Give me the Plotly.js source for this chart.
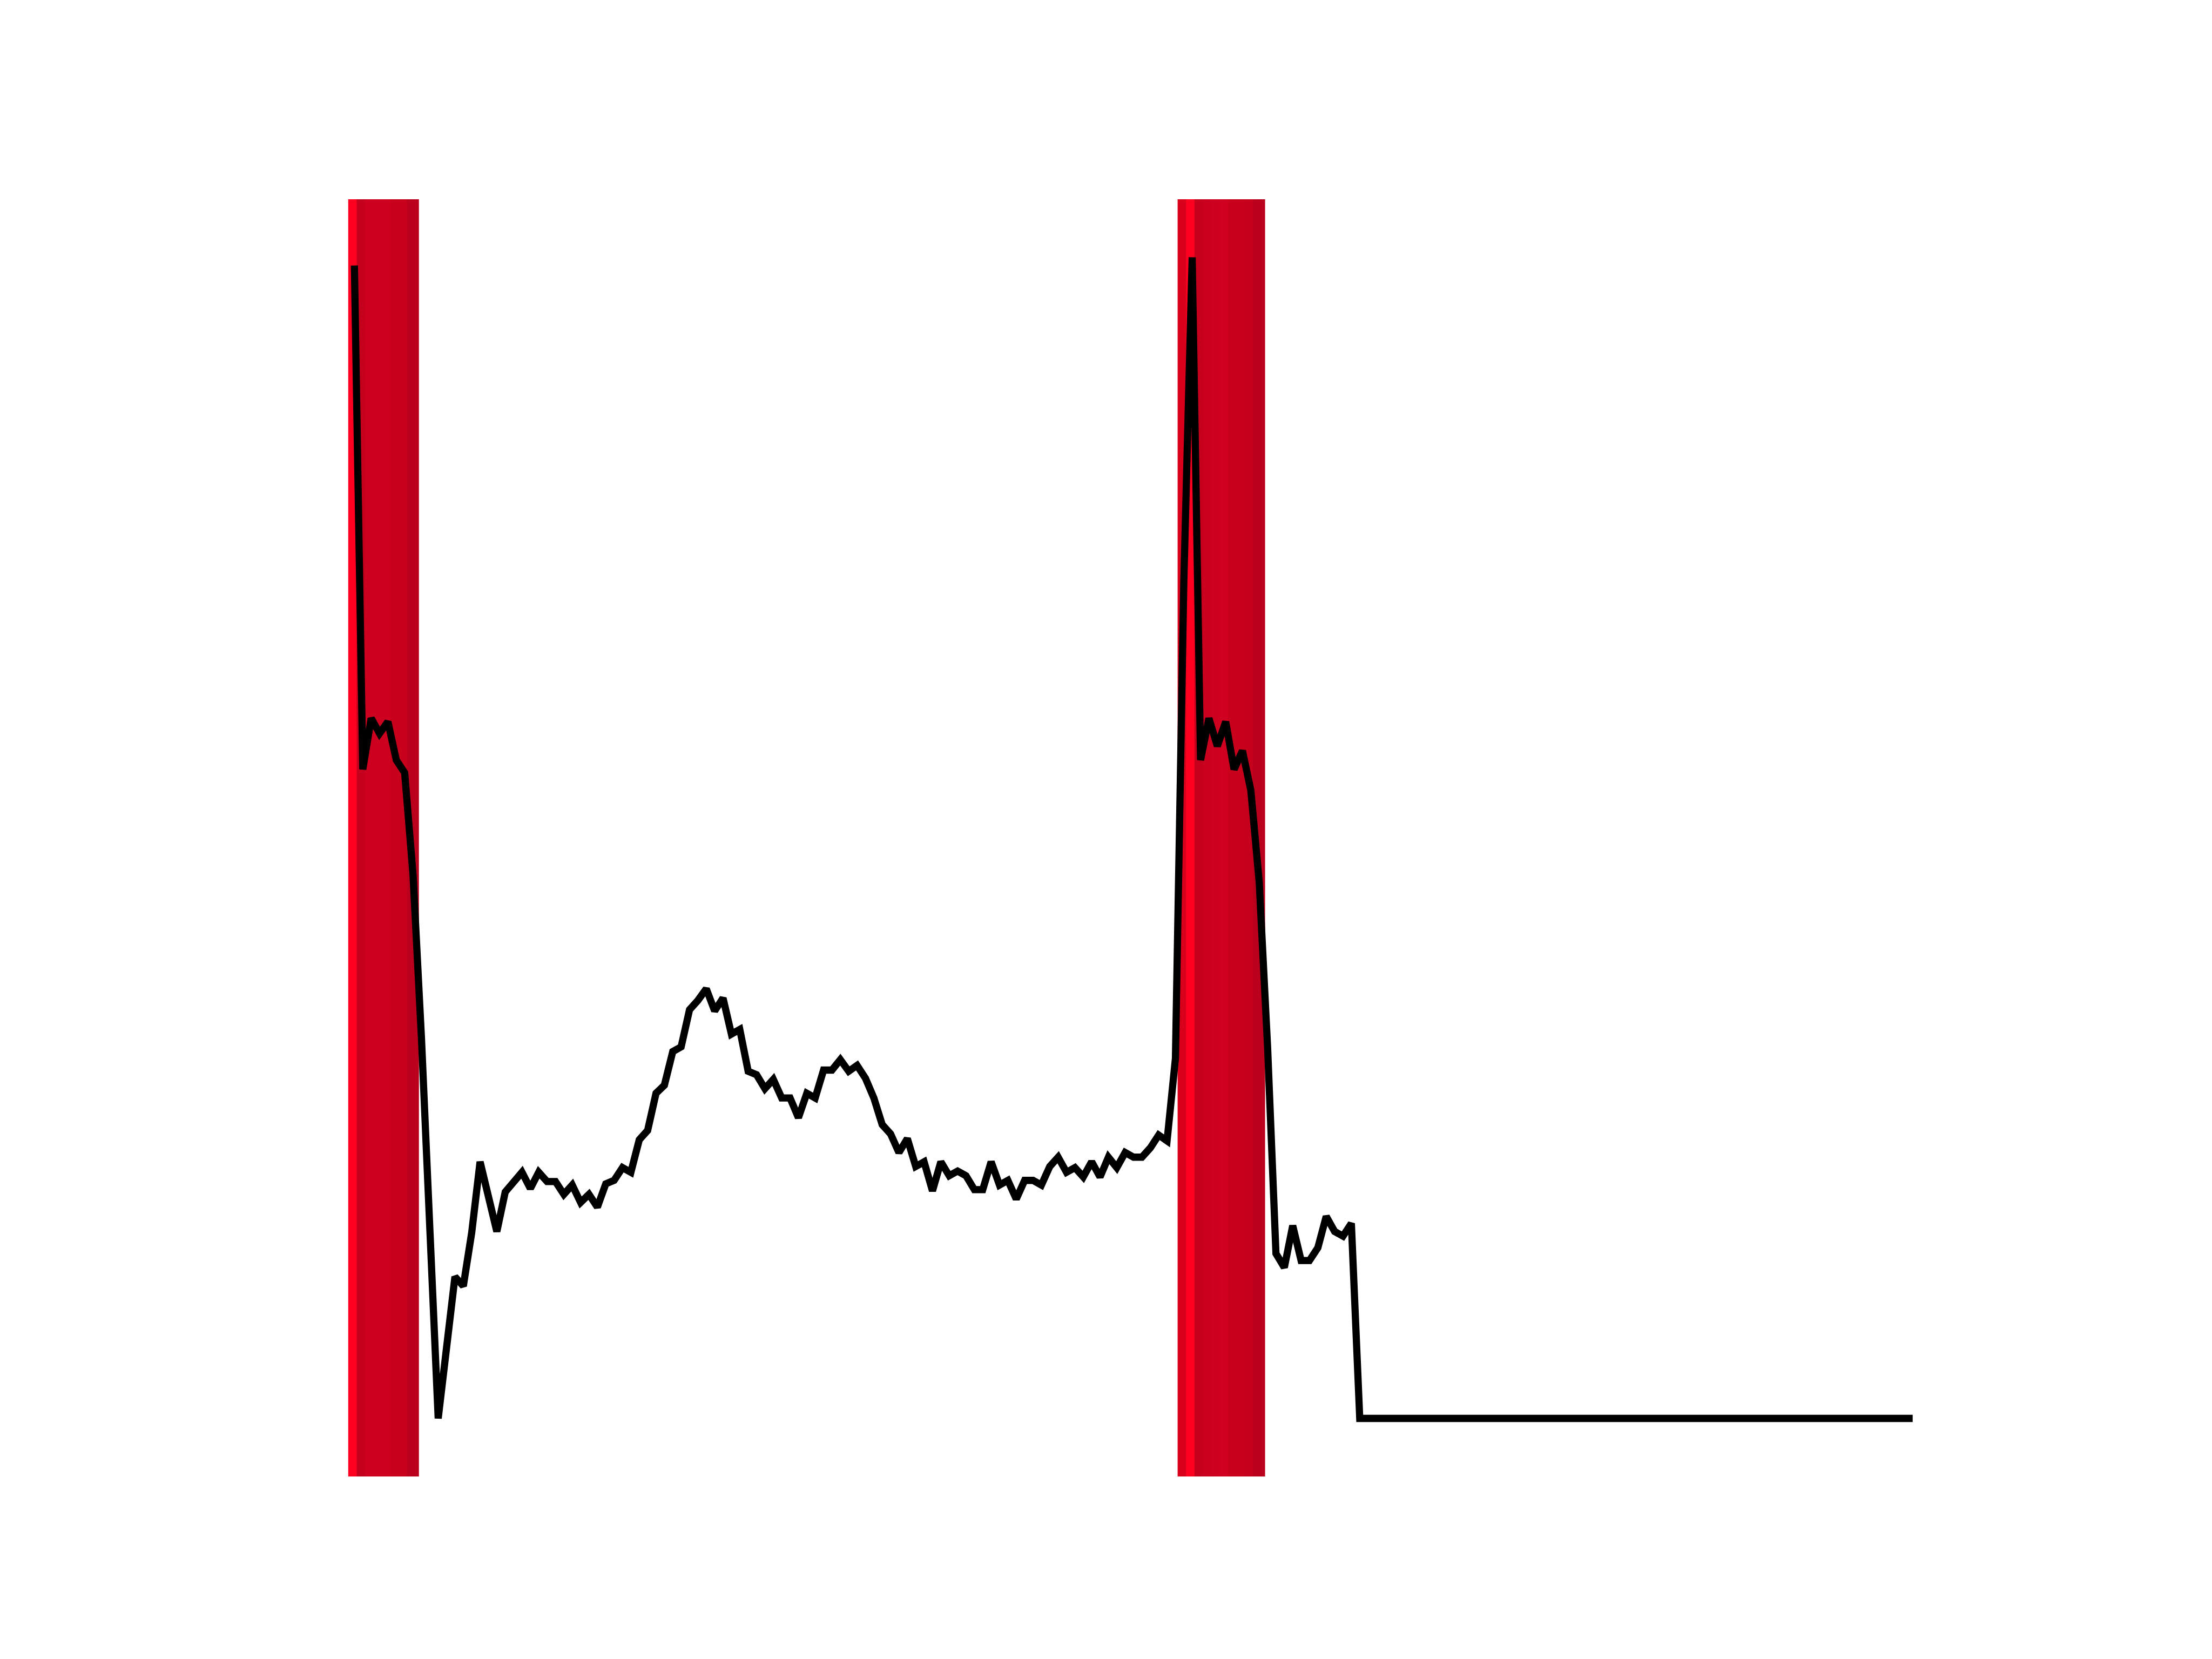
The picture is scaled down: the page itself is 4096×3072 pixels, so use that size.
<!DOCTYPE html>
<html>
<head>
<meta charset="utf-8">
<script src="https://cdn.plot.ly/plotly-3.0.1.min.js"></script>
<style>html,body{margin:0;padding:0;background:#fff;}#chart{width:4096px;height:3072px;}</style>
</head>
<body>
<div id="chart"></div>
<script>
// Series values (one per step)
var values = [
  99.3, 55.9, 60.3, 59.0, 60.0, 56.7, 55.6, 46.8, 32.8, 16.5,
  0.0, 6.1, 12.2, 11.4, 16.0, 22.1, 19.4, 16.1, 19.5, 20.3,
  21.2, 19.8, 21.2, 20.4, 20.4, 19.3, 20.1, 18.6, 19.3, 18.2,
  20.2, 20.5, 21.6, 21.2, 24.0, 24.8, 28.0, 28.7, 31.6, 32.0,
  35.2, 36.0, 37.0, 35.1, 36.2, 33.1, 33.5, 29.9, 29.6, 28.4,
  29.2, 27.6, 27.6, 25.9, 28.0, 27.6, 30.0, 30.0, 30.9, 29.9,
  30.4, 29.3, 27.6, 25.3, 24.5, 22.9, 24.1, 21.7, 22.1, 19.6,
  22.1, 20.9, 21.3, 20.9, 19.7, 19.7, 22.1, 20.1, 20.5, 18.9,
  20.5, 20.5, 20.1, 21.7, 22.5, 21.2, 21.6, 20.8, 22.1, 20.8,
  22.5, 21.6, 22.9, 22.5, 22.5, 23.3, 24.4, 23.9, 31.0, 72.0,
  100.0, 56.7, 60.3, 57.9, 60.0, 55.9, 57.5, 54.1, 46.2, 32.0,
  14.2, 13.0, 16.6, 13.6, 13.6, 14.7, 17.4, 16.1, 15.7, 16.8,
  0, 0, 0, 0, 0, 0, 0, 0, 0, 0,
  0, 0, 0, 0, 0, 0, 0, 0, 0, 0,
  0, 0, 0, 0, 0, 0, 0, 0, 0, 0,
  0, 0, 0, 0, 0, 0, 0, 0, 0, 0,
  0, 0, 0, 0, 0, 0, 0, 0, 0, 0,
  0, 0, 0, 0, 0, 0, 0, 0, 0, 0,
  0, 0, 0, 0, 0, 0, 0
];

// Shaded bands (x edges in step units) and their colours
var band1Edges = [-0.74, 0.27, 1.27, 2.27, 3.27, 4.27, 5.27, 6.27, 7.70];
var band1Colors = ["#FF0021", "#C4001D", "#CD001F", "#CD001F", "#CD001F", "#C8001C", "#C8001C", "#BA001C"];
var band2Edges = [98.26, 99.27, 100.27, 101.27, 102.27, 103.27, 104.27, 105.27, 106.27, 107.27, 108.70];
var band2Colors = ["#D9001C", "#FF0021", "#C6001C", "#CA001E", "#CE001F", "#CF0020", "#C8001C", "#C8001C", "#C6001C", "#BA001C"];

var steps = values.map(function (_, i) { return i; });

var shapes = [];
function addBands(edges, colors) {
  for (var k = 0; k < colors.length; k++) {
    var last = (k === colors.length - 1);
    shapes.push({
      type: "rect", xref: "x", yref: "paper",
      x0: edges[k], x1: last ? edges[k + 1] : edges[k + 1] + 0.15, y0: 0, y1: 1,
      fillcolor: colors[k], line: { width: 0 }, layer: "below"
    });
  }
}
addBands(band1Edges, band1Colors);
addBands(band2Edges, band2Colors);

var n = values.length - 1;
var trace = {
  x: steps, y: values, type: "scatter", mode: "lines",
  line: { color: "#000000", width: 13.3 },
  hoverinfo: "skip", showlegend: false
};

var layout = {
  width: 4096, height: 3072,
  margin: { l: 512, r: 409.6, t: 368.64, b: 337.92, pad: 0 },
  paper_bgcolor: "#ffffff", plot_bgcolor: "rgba(0,0,0,0)",
  xaxis: { range: [-0.05 * n, n * 1.05], visible: false, showgrid: false, zeroline: false },
  yaxis: { range: [-5, 105], visible: false, showgrid: false, zeroline: false },
  shapes: shapes,
  showlegend: false
};

Plotly.newPlot("chart", [trace], layout, { staticPlot: true, displayModeBar: false });
</script>
</body>
</html>
